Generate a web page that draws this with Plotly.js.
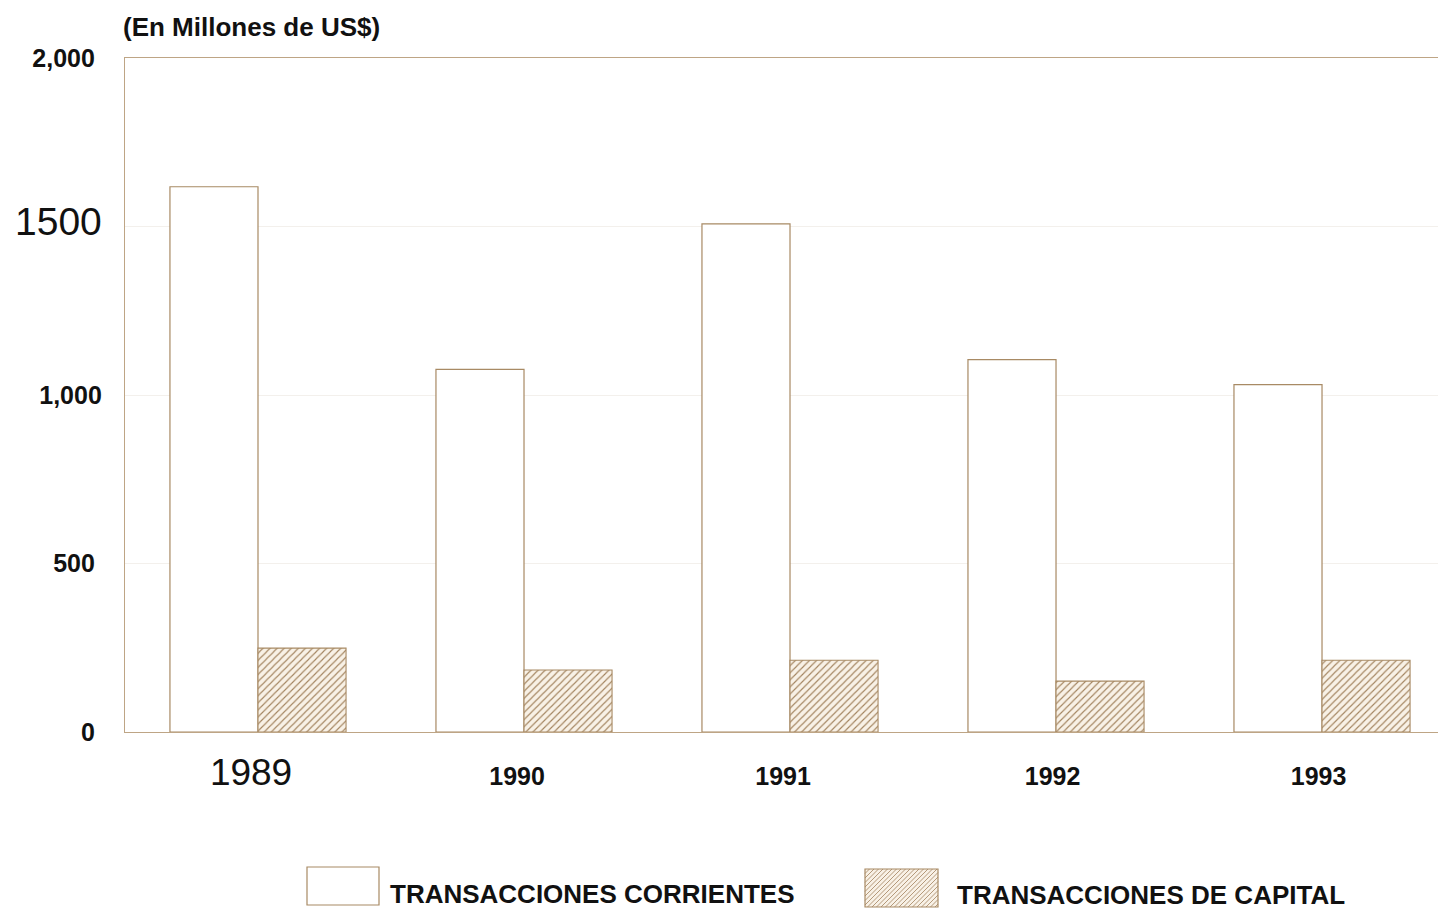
<!DOCTYPE html>
<html>
<head>
<meta charset="utf-8">
<script src="https://cdn.plot.ly/plotly-3.0.1.min.js"></script>
<style>html,body{margin:0;padding:0;background:#fff;}#chart{width:1438px;height:911px;}</style>
</head>
<body>
<div id="chart"></div>
<script>
// ---- data ----
const years = ["1989", "1990", "1991", "1992", "1993"];
const yearLabels = ['<span style="font-size:37px;font-weight:normal">1989</span>&nbsp;&nbsp;', "<b>1990</b>&nbsp;&nbsp;", "<b>1991</b>&nbsp;&nbsp;", "<b>1992</b>&nbsp;", "<b>1993</b>&nbsp;"];
const corrientes = [1618, 1076, 1508, 1105, 1031];
const capital = [249, 184, 213, 151, 213];
const yTickVals = [0, 500, 1000, 1500, 2000];
const yTickText = ["<b>0</b>&nbsp;", "<b>500</b>&nbsp;", "<b>1,000</b>", '<span style="font-size:39px;font-weight:normal">1500</span>', "<b>2,000</b>&nbsp;"];
const seriesNames = ["TRANSACCIONES CORRIENTES", "TRANSACCIONES DE CAPITAL"];
const unitLabel = "(En Millones de US$)";

// ---- style ----
const brown = "#a88a64";
const axisBrown = "#bea585";
const FONT = "Liberation Sans, Arial, sans-serif";
const W = 1438, H = 911, L = 125, R = 0, T = 58, B = 179;
const pw = W - L - R, ph = H - T - B;
const px = x => (x - L) / pw;
const py = y => (H - B - y) / ph;

const traces = [
  {type: "bar", name: seriesNames[0], x: years, y: corrientes,
   marker: {color: "#ffffff", line: {color: brown, width: 1.2}}, showlegend: false},
  {type: "bar", name: seriesNames[1], x: years, y: capital,
   marker: {color: "#f8f1e6", line: {color: brown, width: 1.1},
            pattern: {shape: "/", fgcolor: "#a2835e", bgcolor: "#f8f1e6", size: 5, solidity: 0.22}},
   showlegend: false}
];

// legend swatches drawn as shapes
const shapes = [];
function rectShape(x0, y0, x1, y1, fill) {
  shapes.push({type: "rect", xref: "paper", yref: "paper", x0: px(x0), x1: px(x1), y0: py(y1), y1: py(y0),
               line: {color: brown, width: 1.2}, fillcolor: fill, layer: "above"});
}
rectShape(307, 867, 379, 905, "#ffffff");
rectShape(865, 869, 938, 907, "#f8f1e6");
// hatching for second swatch ("/" lines)
(function () {
  const x0 = 865, x1 = 938, y0 = 869, y1 = 907, step = 4.5;
  const h = y1 - y0;
  for (let k = -h + step; k < x1 - x0; k += step) {
    let ax = x0 + k, ay = y1, bx = x0 + k + h, by = y0;
    if (ax < x0) { ay -= (x0 - ax); ax = x0; }
    if (bx > x1) { by += (bx - x1); bx = x1; }
    if (bx <= ax) continue;
    shapes.push({type: "line", xref: "paper", yref: "paper", x0: px(ax), y0: py(ay), x1: px(bx), y1: py(by),
                 line: {color: "#a2835e", width: 0.8}, layer: "above"});
  }
})();

const annotations = [
  {text: "<b>" + unitLabel + "</b>", xref: "paper", yref: "paper", x: px(121), y: py(27), xanchor: "left", yanchor: "middle",
   showarrow: false, font: {family: FONT, size: 26, color: "#111"}},
  {text: "<b>" + seriesNames[0] + "</b>", xref: "paper", yref: "paper", x: px(388), y: py(894), xanchor: "left", yanchor: "middle",
   showarrow: false, font: {family: FONT, size: 26, color: "#111"}},
  {text: "<b>" + seriesNames[1] + "</b>", xref: "paper", yref: "paper", x: px(955), y: py(895), xanchor: "left", yanchor: "middle",
   showarrow: false, font: {family: FONT, size: 26, color: "#111"}}
];

const layout = {
  width: W, height: H,
  margin: {l: L, r: R, t: T, b: B, pad: 0},
  paper_bgcolor: "#ffffff", plot_bgcolor: "#ffffff",
  barmode: "group", bargap: 0.338, bargroupgap: 0,
  showlegend: false,
  font: {family: FONT, color: "#111"},
  xaxis: {
    type: "category", range: [-0.5, 4.436], tickmode: "array", tickvals: years, ticktext: yearLabels,
    showline: true, linecolor: axisBrown, linewidth: 1.2, mirror: true,
    ticks: "", showgrid: false, zeroline: false,
    tickfont: {family: FONT, size: 25, color: "#111"},
    ticklabelstandoff: 22
  },
  yaxis: {
    range: [0, 2000], tickmode: "array", tickvals: yTickVals, ticktext: yTickText,
    showline: true, linecolor: axisBrown, linewidth: 1.2,
    ticks: "", showgrid: true, gridcolor: "#f3f0ec", gridwidth: 1, zeroline: false,
    tickfont: {family: FONT, size: 25, color: "#111"},
    ticklabelstandoff: 17
  },
  shapes: shapes,
  annotations: annotations
};

Plotly.newPlot("chart", traces, layout, {displayModeBar: false, staticPlot: true});
</script>
</body>
</html>
